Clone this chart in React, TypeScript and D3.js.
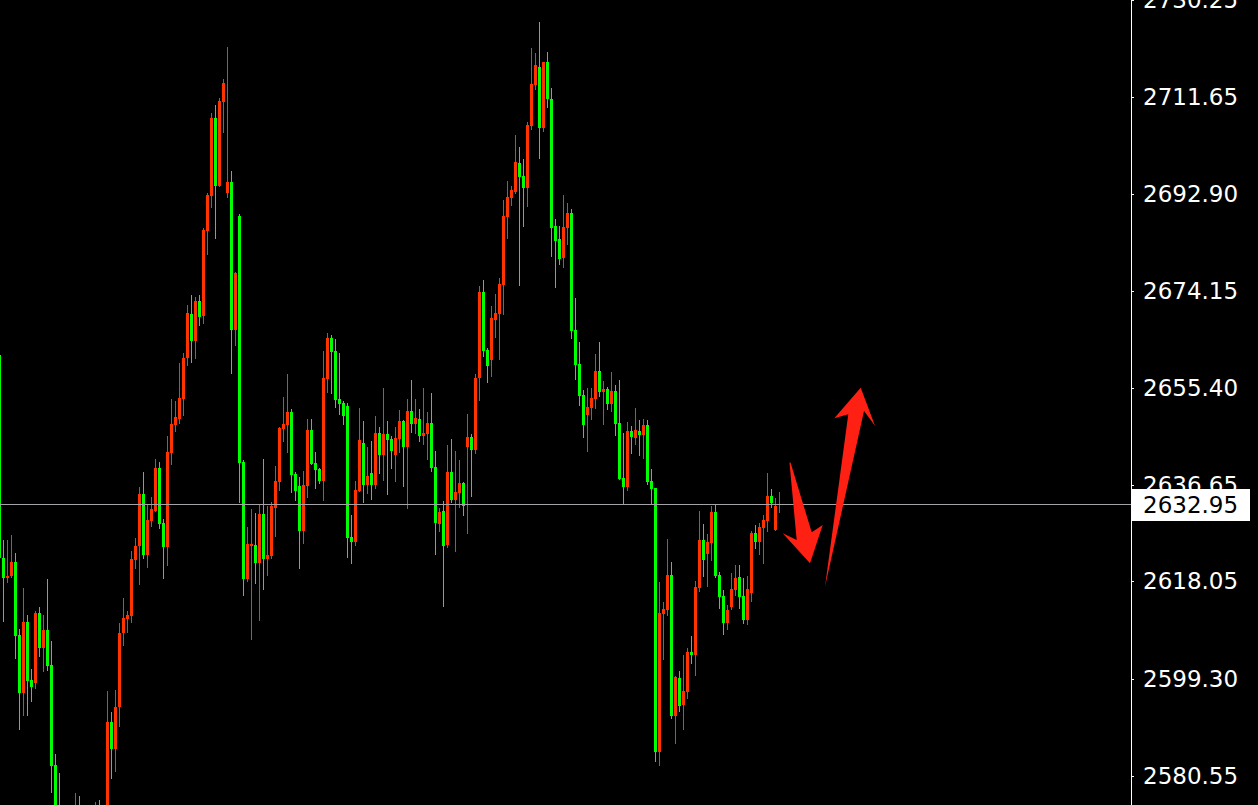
import React from "react";
import * as d3 from "d3";

// OHLC values, bar -1 .. 194 (bar -1 is cut at the left edge)
const opens = [
  2661.8, 2622.6, 2618.7, 2619.1, 2621.8, 2607.7, 2596.5, 2610.2, 2599.0, 2598.5,
  2612.0, 2605.2, 2608.7, 2601.9, 2582.6, 2573.5, 2569.0, 2566.0, 2568.5, 2565.5,
  2570.5, 2567.0, 2564.5, 2567.5, 2569.5, 2572.5, 2570.0, 2573.0, 2590.9, 2585.7,
  2593.8, 2608.1, 2610.8, 2611.4, 2622.2, 2624.9, 2634.9, 2623.2, 2629.7, 2631.7,
  2640.0, 2629.3, 2624.7, 2642.9, 2648.3, 2649.4, 2653.3, 2661.2, 2669.7, 2664.5,
  2672.2, 2669.3, 2685.7, 2692.5, 2707.5, 2694.4, 2710.6, 2693.0, 2695.2, 2666.6,
  2688.6, 2641.1, 2618.5, 2624.9, 2625.1, 2621.6, 2631.1, 2622.4, 2623.0, 2632.2,
  2637.3, 2647.5, 2648.3, 2650.8, 2638.8, 2636.5, 2627.8, 2636.5, 2647.3, 2640.9,
  2639.8, 2637.5, 2657.1, 2665.1, 2662.5, 2653.3, 2652.5, 2651.9, 2626.6, 2625.7,
  2635.5, 2644.8, 2636.7, 2639.0, 2636.7, 2646.7, 2642.5, 2646.5, 2645.6, 2642.5,
  2645.6, 2649.0, 2644.0, 2651.0, 2648.5, 2649.4, 2646.1, 2646.5, 2648.6, 2640.2,
  2629.2, 2631.7, 2625.1, 2639.2, 2633.8, 2635.1, 2637.1, 2644.0, 2645.9, 2643.4,
  2657.3, 2673.9, 2662.7, 2660.8, 2668.5, 2669.7, 2675.3, 2688.4, 2692.1, 2693.2,
  2698.8, 2696.3, 2694.0, 2706.0, 2713.9, 2717.4, 2705.6, 2718.3, 2711.2, 2686.7,
  2684.2, 2680.5, 2686.3, 2689.2, 2666.6, 2660.0, 2654.0, 2650.2, 2651.5, 2653.3,
  2658.7, 2654.6, 2655.2, 2652.3, 2654.8, 2648.6, 2638.0, 2636.3, 2647.1, 2645.8,
  2647.1, 2646.3, 2648.3, 2637.5, 2636.1, 2585.1, 2611.8, 2612.6, 2619.3, 2592.1,
  2599.4, 2594.2, 2596.7, 2604.4, 2603.9, 2616.8, 2626.1, 2623.4, 2625.5, 2631.5,
  2619.3, 2615.3, 2610.0, 2613.1, 2616.4, 2618.9, 2615.3, 2610.6, 2615.8, 2627.4,
  2625.7, 2628.4, 2629.7, 2634.6, 2628.0, 2632.95,
];
const highs = [
  2661.8, 2626.1, 2626.1, 2627.0, 2623.6, 2608.9, 2616.8, 2611.6, 2601.2, 2612.4,
  2613.1, 2611.6, 2618.5, 2606.6, 2584.8, 2581.1, 2572.0, 2571.0, 2572.5, 2577.2,
  2576.6, 2570.0, 2569.5, 2572.0, 2575.5, 2575.9, 2574.5, 2596.9, 2592.9, 2597.1,
  2610.0, 2614.9, 2612.4, 2623.9, 2626.5, 2636.3, 2639.2, 2633.0, 2634.4, 2641.7,
  2641.1, 2630.1, 2646.1, 2653.3, 2652.9, 2660.2, 2662.2, 2671.4, 2673.3, 2673.0,
  2673.3, 2686.3, 2693.0, 2708.5, 2710.0, 2711.4, 2715.0, 2721.2, 2697.3, 2677.8,
  2689.0, 2641.5, 2628.6, 2632.0, 2631.3, 2633.0, 2641.7, 2632.6, 2633.4, 2640.3,
  2647.9, 2653.7, 2658.1, 2651.3, 2639.2, 2638.2, 2639.4, 2649.4, 2649.4, 2643.0,
  2640.0, 2662.5, 2666.0, 2665.6, 2664.9, 2662.2, 2652.9, 2652.5, 2630.9, 2637.5,
  2651.5, 2649.0, 2644.0, 2645.2, 2650.0, 2647.9, 2655.4, 2649.0, 2646.1, 2647.9,
  2651.2, 2649.2, 2653.3, 2656.9, 2653.3, 2651.3, 2655.4, 2650.8, 2654.4, 2643.2,
  2632.2, 2633.6, 2644.4, 2645.6, 2643.2, 2641.5, 2637.3, 2650.4, 2646.5, 2658.1,
  2675.1, 2676.2, 2663.1, 2671.2, 2673.5, 2676.6, 2691.7, 2695.4, 2694.4, 2704.2,
  2701.9, 2699.6, 2706.7, 2721.0, 2720.1, 2726.0, 2718.4, 2720.2, 2713.3, 2688.0,
  2686.7, 2692.6, 2691.1, 2689.9, 2672.8, 2664.3, 2655.0, 2655.4, 2655.4, 2662.0,
  2664.3, 2656.8, 2655.6, 2658.5, 2656.0, 2656.9, 2646.7, 2648.8, 2648.1, 2651.5,
  2649.2, 2649.4, 2649.2, 2639.8, 2636.1, 2618.0, 2614.1, 2626.3, 2621.8, 2599.8,
  2600.8, 2603.9, 2605.2, 2607.5, 2618.1, 2631.7, 2629.2, 2627.2, 2632.6, 2633.0,
  2619.9, 2616.4, 2613.5, 2619.7, 2621.2, 2621.2, 2618.7, 2619.1, 2627.8, 2629.0,
  2629.3, 2630.9, 2639.0, 2635.9, 2634.2, 2635.3,
];
const lows = [
  2622.1, 2610.2, 2617.8, 2618.7, 2603.1, 2589.4, 2592.1, 2592.1, 2594.8, 2597.3,
  2603.5, 2600.6, 2600.8, 2577.2, 2572.4, 2567.0, 2563.5, 2564.0, 2563.0, 2564.0,
  2565.0, 2562.0, 2563.0, 2566.0, 2568.0, 2568.5, 2568.5, 2571.0, 2579.9, 2581.3,
  2590.0, 2605.6, 2608.1, 2610.0, 2620.5, 2617.4, 2622.4, 2620.7, 2628.6, 2631.5,
  2628.2, 2618.5, 2621.0, 2640.5, 2646.9, 2648.5, 2650.0, 2659.6, 2660.2, 2661.0,
  2667.4, 2667.8, 2681.1, 2690.1, 2684.2, 2694.2, 2704.6, 2692.1, 2658.1, 2663.5,
  2633.2, 2615.3, 2618.0, 2606.8, 2617.6, 2610.4, 2616.4, 2619.1, 2622.4, 2626.6,
  2635.5, 2645.0, 2642.9, 2635.1, 2633.6, 2620.5, 2625.3, 2634.2, 2640.5, 2635.9,
  2636.9, 2633.6, 2654.4, 2654.2, 2651.5, 2650.2, 2648.3, 2622.6, 2621.4, 2624.9,
  2635.3, 2633.2, 2634.9, 2633.8, 2635.9, 2638.8, 2637.5, 2634.7, 2639.8, 2637.3,
  2642.9, 2636.3, 2632.0, 2646.7, 2646.5, 2645.0, 2644.4, 2641.5, 2639.2, 2623.2,
  2627.6, 2613.1, 2624.5, 2633.2, 2623.7, 2632.2, 2630.7, 2627.2, 2634.4, 2642.7,
  2652.9, 2661.4, 2656.4, 2657.5, 2665.1, 2660.8, 2669.5, 2684.2, 2690.5, 2692.8,
  2675.1, 2686.5, 2690.3, 2705.2, 2712.9, 2699.6, 2704.8, 2709.4, 2680.7, 2674.7,
  2679.1, 2678.6, 2683.0, 2664.9, 2656.9, 2651.9, 2645.8, 2643.0, 2649.2, 2651.3,
  2653.7, 2648.3, 2651.2, 2650.8, 2646.1, 2637.6, 2632.8, 2635.5, 2642.7, 2644.4,
  2642.3, 2641.7, 2636.7, 2632.8, 2583.2, 2582.4, 2602.9, 2611.4, 2591.5, 2586.7,
  2592.9, 2589.4, 2595.4, 2602.1, 2599.8, 2616.0, 2618.9, 2617.0, 2622.0, 2618.7,
  2612.7, 2607.7, 2608.7, 2612.6, 2615.3, 2612.7, 2609.9, 2609.7, 2614.1, 2624.3,
  2623.2, 2621.4, 2627.6, 2632.2, 2627.8, 2631.3,
];
const closes = [
  2622.6, 2618.7, 2619.1, 2621.8, 2607.5, 2596.5, 2610.2, 2598.9, 2597.7, 2612.0,
  2605.2, 2608.7, 2601.7, 2582.4, 2573.6, 2569.0, 2566.0, 2568.5, 2565.5, 2570.5,
  2567.0, 2564.5, 2567.5, 2569.5, 2572.5, 2570.0, 2573.0, 2590.9, 2585.7, 2593.8,
  2608.1, 2611.0, 2611.6, 2622.4, 2624.9, 2634.9, 2623.2, 2629.9, 2632.0, 2640.0,
  2629.2, 2624.7, 2643.0, 2648.5, 2649.8, 2653.5, 2661.2, 2669.9, 2664.5, 2672.2,
  2669.1, 2685.9, 2692.6, 2707.5, 2694.4, 2710.8, 2714.3, 2695.2, 2666.6, 2677.6,
  2640.9, 2618.5, 2625.3, 2625.3, 2621.6, 2631.1, 2622.4, 2623.2, 2632.6, 2637.5,
  2647.7, 2648.5, 2650.8, 2638.6, 2635.5, 2627.8, 2636.7, 2647.3, 2640.7, 2639.6,
  2637.5, 2657.3, 2665.1, 2662.3, 2653.1, 2652.3, 2650.0, 2626.5, 2625.7, 2635.7,
  2645.4, 2636.7, 2638.4, 2636.7, 2646.7, 2642.5, 2646.5, 2645.4, 2643.2, 2645.8,
  2649.0, 2644.0, 2651.0, 2648.5, 2649.6, 2646.1, 2646.7, 2648.6, 2640.0, 2629.3,
  2631.5, 2624.9, 2639.2, 2633.8, 2635.3, 2637.1, 2632.6, 2645.9, 2643.4, 2657.3,
  2673.9, 2662.5, 2659.6, 2668.9, 2669.9, 2675.5, 2688.6, 2692.3, 2693.6, 2699.0,
  2696.1, 2694.0, 2706.2, 2714.1, 2717.7, 2705.6, 2718.3, 2711.2, 2686.3, 2683.8,
  2680.3, 2686.5, 2689.2, 2666.4, 2659.8, 2653.9, 2648.3, 2651.7, 2653.5, 2658.7,
  2654.6, 2655.2, 2652.3, 2654.8, 2648.5, 2637.8, 2636.3, 2647.1, 2645.9, 2647.3,
  2646.3, 2648.3, 2637.3, 2635.9, 2585.1, 2612.0, 2612.7, 2619.3, 2592.1, 2599.6,
  2594.0, 2596.9, 2604.4, 2603.9, 2617.0, 2626.1, 2622.2, 2625.7, 2631.5, 2619.1,
  2615.1, 2610.0, 2612.6, 2616.6, 2618.7, 2615.1, 2610.6, 2616.6, 2627.4, 2625.7,
  2628.6, 2629.9, 2634.6, 2633.2, 2632.6, 2632.95,
];

const firstBar = -1;
const tickLabels = [
  "2730.25", "2711.65", "2692.90", "2674.15", "2655.40",
  "2636.65", "2618.05", "2599.30", "2580.55",
];
const currentPrice = 2632.95;
const currentLabel = "2632.95";

// annotation arrows, points as [bar index, price]
const downArrow = [
  [196.54, 2641.0], [196.8, 2641.0], [202.09, 2627.54], [204.84, 2628.95],
  [201.67, 2621.56], [194.84, 2627.35], [198.34, 2626.05],
];
const upArrow = [
  [205.42, 2617.04], [215.17, 2650.95], [217.92, 2648.12], [214.34, 2655.45],
  [207.74, 2649.54], [211.24, 2650.32],
];

const W = 1258;
const H = 805;
const AXIS_X = 1131;
const UP = "#ff3300";
const DOWN = "#00ff00";

export default function App() {
  const x = d3.scaleLinear().domain([-1, 194]).range([-0.67, 779.33]);
  const y = d3.scaleLinear().domain([2574.91, 2730.28]).range([H, 0]);
  const fs = 23;

  const candles = opens.map((o, i) => {
    const c = closes[i];
    const hi = highs[i];
    const lo = lows[i];
    const cx = Math.round(x(i + firstBar));
    const up = c >= o;
    const col = up ? UP : DOWN;
    const yTop = Math.round(y(Math.max(o, c)));
    const yBot = Math.round(y(Math.min(o, c)));
    const yH = Math.round(y(hi));
    const yL = Math.round(y(lo));
    return (
      <g key={i}>
        <rect x={cx} y={yH} width={1} height={Math.max(1, yL - yH)} fill={col} />
        <rect x={cx - 1} y={yTop} width={3} height={Math.max(1, yBot - yTop)} fill={col} />
      </g>
    );
  });

  const arrowPath = (pts: number[][]) =>
    d3.line()(pts.map((p) => [x(p[0]), y(p[1])] as [number, number])) + "Z";

  const py = Math.round(y(currentPrice));

  return (
    <svg
      width={W}
      height={H}
      style={{ position: "fixed", left: 0, top: 0, background: "#000", display: "block" }}
    >
      <rect x={0} y={0} width={W} height={H} fill="#000" />
      <g shapeRendering="crispEdges">{candles}</g>
      <line x1={0} x2={AXIS_X} y1={py + 0.5} y2={py + 0.5} stroke="#a3a3a8" strokeWidth={1} />
      <path d={arrowPath(downArrow)} fill="#ff2014" />
      <path d={arrowPath(upArrow)} fill="#ff2014" />
      <rect x={AXIS_X} y={0} width={W - AXIS_X} height={H} fill="#000" />
      <line x1={AXIS_X + 0.5} x2={AXIS_X + 0.5} y1={0} y2={H} stroke="#ffffff" strokeWidth={1} />
      {tickLabels.map((t) => {
        const ty = Math.round(y(parseFloat(t)));
        return (
          <g key={t}>
            <line x1={AXIS_X} x2={AXIS_X + 3} y1={ty + 0.5} y2={ty + 0.5} stroke="#ffffff" />
            <text
              x={1143}
              y={ty + fs * 0.36}
              fill="#ffffff"
              fontFamily="DejaVu Sans"
              fontSize={fs}
            >
              {t}
            </text>
          </g>
        );
      })}
      <rect x={AXIS_X + 1} y={py - 15} width={118} height={32} fill="#ffffff" />
      <text x={1143} y={py + fs * 0.36 + 1} fill="#000000" fontFamily="DejaVu Sans" fontSize={fs}>
        {currentLabel}
      </text>
    </svg>
  );
}
